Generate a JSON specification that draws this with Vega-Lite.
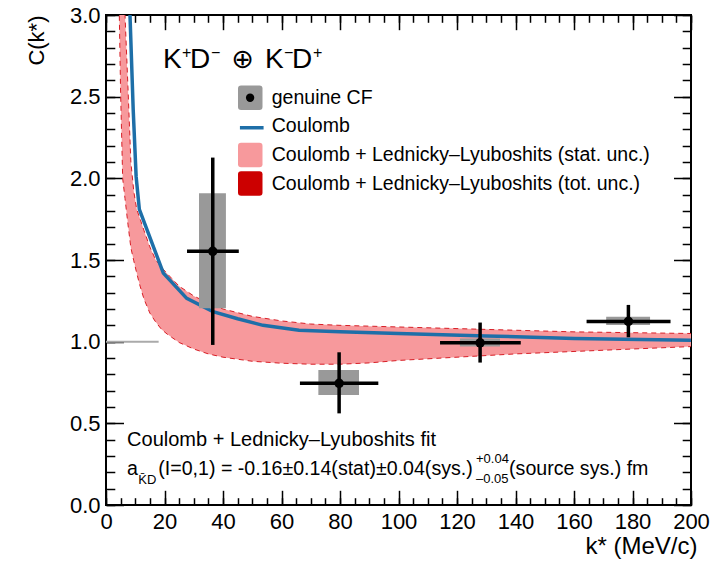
{
  "$schema": "https://vega.github.io/schema/vega-lite/v6.json",
  "width": 585,
  "height": 490,
  "autosize": {"type": "none"},
  "padding": {"left": 106, "top": 15, "right": 31, "bottom": 56},
  "background": "white",
  "config": {
    "font": "Liberation Sans",
    "view": {"stroke": "black", "strokeWidth": 2},
    "axis": {
      "grid": false,
      "domain": false,
      "labelFont": "Liberation Sans",
      "titleFont": "Liberation Sans",
      "labelColor": "black",
      "titleColor": "black",
      "tickColor": "black",
      "tickWidth": 1.5,
      "titleFontWeight": "normal"
    },
    "text": {"font": "Liberation Sans", "color": "black"}
  },
  "datasets": {
    "one": [{}],
    "band": [
      {"k": 4.5, "lo": 3.05, "hi": 4.0},
      {"k": 5.0, "lo": 2.52, "hi": 3.7},
      {"k": 5.7, "lo": 2.0, "hi": 3.35},
      {"k": 6.5, "lo": 1.876, "hi": 3.0},
      {"k": 7.5, "lo": 1.72, "hi": 2.56},
      {"k": 8.5, "lo": 1.575, "hi": 2.1},
      {"k": 9.5, "lo": 1.495, "hi": 1.92},
      {"k": 10.5, "lo": 1.42, "hi": 1.81},
      {"k": 11.5, "lo": 1.35, "hi": 1.76},
      {"k": 13, "lo": 1.26, "hi": 1.68},
      {"k": 15, "lo": 1.175, "hi": 1.58},
      {"k": 17, "lo": 1.12, "hi": 1.5},
      {"k": 19, "lo": 1.075, "hi": 1.455},
      {"k": 21, "lo": 1.045, "hi": 1.415},
      {"k": 25, "lo": 0.995, "hi": 1.34},
      {"k": 30, "lo": 0.955, "hi": 1.28},
      {"k": 35, "lo": 0.925, "hi": 1.235},
      {"k": 40, "lo": 0.905, "hi": 1.2},
      {"k": 50, "lo": 0.88, "hi": 1.155},
      {"k": 60, "lo": 0.868, "hi": 1.127},
      {"k": 70, "lo": 0.862, "hi": 1.108},
      {"k": 80, "lo": 0.862, "hi": 1.1},
      {"k": 90, "lo": 0.87, "hi": 1.095},
      {"k": 100, "lo": 0.885, "hi": 1.09},
      {"k": 120, "lo": 0.905, "hi": 1.08},
      {"k": 140, "lo": 0.925, "hi": 1.07},
      {"k": 160, "lo": 0.94, "hi": 1.06},
      {"k": 180, "lo": 0.955, "hi": 1.055},
      {"k": 200, "lo": 0.97, "hi": 1.05}
    ],
    "coulomb": [
      {"k": 7.8, "c": 3.2},
      {"k": 8.2, "c": 3.0},
      {"k": 9.3, "c": 2.42},
      {"k": 10.3, "c": 2.01},
      {"k": 11.4, "c": 1.81},
      {"k": 19.6, "c": 1.42},
      {"k": 27.6, "c": 1.265},
      {"k": 36.6, "c": 1.184},
      {"k": 45, "c": 1.14},
      {"k": 53.7, "c": 1.1},
      {"k": 66, "c": 1.07},
      {"k": 80, "c": 1.06},
      {"k": 100, "c": 1.05},
      {"k": 130, "c": 1.035},
      {"k": 160, "c": 1.02},
      {"k": 200, "c": 1.008}
    ],
    "cf": [
      {"k": 36.5, "c": 1.553, "k_lo": 27.7, "k_hi": 45.4, "c_lo": 0.98, "c_hi": 2.127, "sk_lo": 31.8, "sk_hi": 41.0, "sc_lo": 1.205, "sc_hi": 1.909},
      {"k": 79.7, "c": 0.745, "k_lo": 66.3, "k_hi": 93.1, "c_lo": 0.561, "c_hi": 0.935, "sk_lo": 72.6, "sk_hi": 86.5, "sc_lo": 0.674, "sc_hi": 0.827},
      {"k": 127.9, "c": 0.993, "k_lo": 114.2, "k_hi": 141.8, "c_lo": 0.872, "c_hi": 1.117, "sk_lo": 121.0, "sk_hi": 134.7, "sc_lo": 0.97, "sc_hi": 1.02},
      {"k": 178.6, "c": 1.124, "k_lo": 164.3, "k_hi": 193.0, "c_lo": 1.027, "c_hi": 1.225, "sk_lo": 171.0, "sk_hi": 186.0, "sc_lo": 1.102, "sc_hi": 1.153}
    ]
  },
  "layer": [
    {
      "data": {"name": "one"},
      "mark": {"type": "rule", "color": "#AAAAAA", "strokeWidth": 2},
      "encoding": {
        "x": {"datum": 0, "type": "quantitative", "axis": null},
        "x2": {"datum": 18},
        "y": {"datum": 1, "type": "quantitative", "axis": null}
      }
    },
    {
      "data": {"name": "band"},
      "mark": {"type": "area", "clip": true, "opacity": 1},
      "encoding": {
        "x": {
          "field": "k", "type": "quantitative",
          "scale": {"domain": [0, 200]},
          "axis": {
            "orient": "bottom",
            "values": [0, 20, 40, 60, 80, 100, 120, 140, 160, 180, 200],
            "ticks": false,
            "labelFontSize": 22,
            "labelPadding": 6,
            "labelFlush": false,
            "labelOverlap": false,
            "title": "k* (MeV/c)",
            "titleFontSize": 24,
            "titleAlign": "right",
            "titleBaseline": "alphabetic",
            "titleX": 591,
            "titleY": 48
          }
        },
        "y": {
          "field": "lo", "type": "quantitative",
          "scale": {"domain": [0, 3]},
          "axis": {
            "orient": "left",
            "values": [0, 0.5, 1, 1.5, 2, 2.5, 3],
            "format": ".1f",
            "ticks": false,
            "labelFontSize": 22,
            "labelPadding": 6,
            "labelFlush": false,
            "labelOverlap": false,
            "title": "C(k*)",
            "titleFontSize": 22,
            "titleAngle": -90,
            "titleAlign": "right",
            "titleBaseline": "alphabetic",
            "titleX": -63,
            "titleY": 0
          }
        },
        "y2": {"field": "hi"},
        "fill": {
          "datum": "Coulomb + Lednicky–Lyuboshits (stat. unc.)",
          "type": "nominal",
          "scale": {
            "domain": ["genuine CF", "Coulomb", "Coulomb + Lednicky–Lyuboshits (stat. unc.)", "Coulomb + Lednicky–Lyuboshits (tot. unc.)"],
            "range": ["#999999", "#FFFFFF", "#F7999C", "#CC0000"]
          },
          "legend": {
            "orient": "none",
            "legendX": 131.75,
            "legendY": 70.25,
            "title": null,
            "padding": 0,
            "symbolSize": 600,
            "symbolType": "M-1,-0.75Q-1,-1,-0.75,-1L0.75,-1Q1,-1,1,-0.75L1,0.75Q1,1,0.75,1L-0.75,1Q-1,1,-1,0.75Z",
            "symbolStrokeWidth": 0,
            "symbolOpacity": 1,
            "rowPadding": 3.6,
            "labelFontSize": 19.5,
            "labelFont": "Liberation Sans",
            "labelColor": "black",
            "labelOffset": 9,
            "labelLimit": 0
          }
        }
      }
    },
    {
      "data": {"name": "band"},
      "mark": {"type": "line", "clip": true, "strokeWidth": 1, "strokeDash": [5, 4], "color": "#D81E26"},
      "encoding": {
        "x": {
          "field": "k", "type": "quantitative", "scale": {"domain": [0, 200]},
          "axis": {"orient": "bottom", "values": [0, 20, 40, 60, 80, 100, 120, 140, 160, 180, 200], "labels": false, "tickSize": -14.7, "title": null}
        },
        "y": {
          "field": "hi", "type": "quantitative", "scale": {"domain": [0, 3]},
          "axis": {"orient": "left", "values": [0, 0.5, 1, 1.5, 2, 2.5, 3], "labels": false, "tickSize": -17.5, "title": null}
        }
      }
    },
    {
      "data": {"name": "band"},
      "mark": {"type": "line", "clip": true, "strokeWidth": 1, "strokeDash": [5, 4], "color": "#D81E26"},
      "encoding": {
        "x": {
          "field": "k", "type": "quantitative", "scale": {"domain": [0, 200]},
          "axis": {"orient": "top", "values": [0, 20, 40, 60, 80, 100, 120, 140, 160, 180, 200], "labels": false, "tickSize": -14.7, "title": null}
        },
        "y": {
          "field": "lo", "type": "quantitative", "scale": {"domain": [0, 3]},
          "axis": {"orient": "right", "values": [0, 0.5, 1, 1.5, 2, 2.5, 3], "labels": false, "tickSize": -17.5, "title": null}
        }
      }
    },
    {
      "data": {"name": "coulomb"},
      "mark": {"type": "line", "clip": true, "strokeWidth": 3.5},
      "encoding": {
        "x": {
          "field": "k", "type": "quantitative", "scale": {"domain": [0, 200]},
          "axis": {"orient": "bottom", "values": [0, 5, 10, 15, 20, 25, 30, 35, 40, 45, 50, 55, 60, 65, 70, 75, 80, 85, 90, 95, 100, 105, 110, 115, 120, 125, 130, 135, 140, 145, 150, 155, 160, 165, 170, 175, 180, 185, 190, 195, 200], "labels": false, "tickSize": -7.3, "title": null}
        },
        "y": {
          "field": "c", "type": "quantitative", "scale": {"domain": [0, 3]},
          "axis": {"orient": "left", "values": [0, 0.1, 0.2, 0.3, 0.4, 0.5, 0.6, 0.7, 0.8, 0.9, 1, 1.1, 1.2, 1.3, 1.4, 1.5, 1.6, 1.7, 1.8, 1.9, 2, 2.1, 2.2, 2.3, 2.4, 2.5, 2.6, 2.7, 2.8, 2.9, 3], "labels": false, "tickSize": -8.8, "title": null}
        },
        "stroke": {
          "datum": "Coulomb",
          "type": "nominal",
          "scale": {"domain": ["Coulomb"], "range": ["#1E6FA8"]},
          "legend": {
            "orient": "none",
            "legendX": 131.75,
            "legendY": 98.75,
            "title": null,
            "padding": 0,
            "symbolType": "stroke",
            "symbolSize": 560,
            "symbolStrokeWidth": 3.5,
            "labelExpr": "''",
            "labelFontSize": 1,
            "labelOffset": 0
          }
        }
      }
    },
    {
      "data": {"name": "cf"},
      "mark": {"type": "rect", "opacity": 1, "color": "#999999"},
      "encoding": {
        "x": {
          "field": "sk_lo", "type": "quantitative", "scale": {"domain": [0, 200]},
          "axis": {"orient": "top", "values": [0, 5, 10, 15, 20, 25, 30, 35, 40, 45, 50, 55, 60, 65, 70, 75, 80, 85, 90, 95, 100, 105, 110, 115, 120, 125, 130, 135, 140, 145, 150, 155, 160, 165, 170, 175, 180, 185, 190, 195, 200], "labels": false, "tickSize": -7.3, "title": null}
        },
        "x2": {"field": "sk_hi"},
        "y": {
          "field": "sc_lo", "type": "quantitative", "scale": {"domain": [0, 3]},
          "axis": {"orient": "right", "values": [0, 0.1, 0.2, 0.3, 0.4, 0.5, 0.6, 0.7, 0.8, 0.9, 1, 1.1, 1.2, 1.3, 1.4, 1.5, 1.6, 1.7, 1.8, 1.9, 2, 2.1, 2.2, 2.3, 2.4, 2.5, 2.6, 2.7, 2.8, 2.9, 3], "labels": false, "tickSize": -8.8, "title": null}
        },
        "y2": {"field": "sc_hi"}
      }
    },
    {
      "data": {"name": "cf"},
      "mark": {"type": "rule", "color": "black", "strokeWidth": 3.5},
      "encoding": {
        "x": {"field": "k_lo", "type": "quantitative", "axis": null},
        "x2": {"field": "k_hi"},
        "y": {"field": "c", "type": "quantitative", "axis": null}
      }
    },
    {
      "data": {"name": "cf"},
      "mark": {"type": "rule", "color": "black", "strokeWidth": 3.5},
      "encoding": {
        "x": {"field": "k", "type": "quantitative", "axis": null},
        "y": {"field": "c_lo", "type": "quantitative", "axis": null},
        "y2": {"field": "c_hi"}
      }
    },
    {
      "data": {"name": "cf"},
      "mark": {"type": "point", "filled": true, "color": "black", "size": 90, "opacity": 1},
      "encoding": {
        "x": {"field": "k", "type": "quantitative", "axis": null},
        "y": {"field": "c", "type": "quantitative", "axis": null},
        "shape": {
          "datum": "dot",
          "type": "nominal",
          "scale": {"domain": ["dot"], "range": ["circle"]},
          "legend": {
            "orient": "none",
            "legendX": 139.6,
            "legendY": 78.3,
            "title": null,
            "padding": 0,
            "labelExpr": "''",
            "labelFontSize": 1,
            "labelOffset": 0,
            "symbolSize": 70,
            "symbolFillColor": "black",
            "symbolStrokeWidth": 0
          }
        }
      }
    },
    {
      "data": {"name": "one"},
      "mark": {"type": "text", "text": "K", "fontSize": 28, "align": "left", "baseline": "alphabetic"},
      "encoding": {"x": {"datum": 19.49, "type": "quantitative", "axis": null}, "y": {"datum": 2.674, "type": "quantitative", "axis": null}}
    },
    {
      "data": {"name": "one"},
      "mark": {"type": "text", "text": "+", "fontSize": 16, "align": "left", "baseline": "alphabetic", "dy": -10},
      "encoding": {"x": {"datum": 25.98, "type": "quantitative", "axis": null}, "y": {"datum": 2.674, "type": "quantitative", "axis": null}}
    },
    {
      "data": {"name": "one"},
      "mark": {"type": "text", "text": "D", "fontSize": 28, "align": "left", "baseline": "alphabetic"},
      "encoding": {"x": {"datum": 28.72, "type": "quantitative", "axis": null}, "y": {"datum": 2.674, "type": "quantitative", "axis": null}}
    },
    {
      "data": {"name": "one"},
      "mark": {"type": "text", "text": "−", "fontSize": 16, "align": "left", "baseline": "alphabetic", "dy": -10},
      "encoding": {"x": {"datum": 35.9, "type": "quantitative", "axis": null}, "y": {"datum": 2.674, "type": "quantitative", "axis": null}}
    },
    {
      "data": {"name": "one"},
      "mark": {"type": "text", "text": "⊕", "fontSize": 27, "align": "left", "baseline": "alphabetic", "font": "DejaVu Sans"},
      "encoding": {"x": {"datum": 42.9, "type": "quantitative", "axis": null}, "y": {"datum": 2.674, "type": "quantitative", "axis": null}}
    },
    {
      "data": {"name": "one"},
      "mark": {"type": "text", "text": "K", "fontSize": 28, "align": "left", "baseline": "alphabetic"},
      "encoding": {"x": {"datum": 54.36, "type": "quantitative", "axis": null}, "y": {"datum": 2.674, "type": "quantitative", "axis": null}}
    },
    {
      "data": {"name": "one"},
      "mark": {"type": "text", "text": "−", "fontSize": 16, "align": "left", "baseline": "alphabetic", "dy": -10},
      "encoding": {"x": {"datum": 60.85, "type": "quantitative", "axis": null}, "y": {"datum": 2.674, "type": "quantitative", "axis": null}}
    },
    {
      "data": {"name": "one"},
      "mark": {"type": "text", "text": "D", "fontSize": 28, "align": "left", "baseline": "alphabetic"},
      "encoding": {"x": {"datum": 63.59, "type": "quantitative", "axis": null}, "y": {"datum": 2.674, "type": "quantitative", "axis": null}}
    },
    {
      "data": {"name": "one"},
      "mark": {"type": "text", "text": "+", "fontSize": 16, "align": "left", "baseline": "alphabetic", "dy": -10},
      "encoding": {"x": {"datum": 70.77, "type": "quantitative", "axis": null}, "y": {"datum": 2.674, "type": "quantitative", "axis": null}}
    },
    {
      "data": {"name": "one"},
      "mark": {"type": "text", "text": "Coulomb + Lednicky–Lyuboshits fit", "fontSize": 20, "align": "left", "baseline": "alphabetic"},
      "encoding": {"x": {"datum": 7.2, "type": "quantitative", "axis": null}, "y": {"datum": 0.361, "type": "quantitative", "axis": null}}
    },
    {
      "data": {"name": "one"},
      "mark": {"type": "text", "text": "a", "fontSize": 19.6, "align": "left", "baseline": "alphabetic"},
      "encoding": {"x": {"datum": 7.2, "type": "quantitative", "axis": null}, "y": {"datum": 0.184, "type": "quantitative", "axis": null}}
    },
    {
      "data": {"name": "one"},
      "mark": {"type": "text", "text": "K̄D", "fontSize": 13, "align": "left", "baseline": "alphabetic"},
      "encoding": {"x": {"datum": 11.04, "type": "quantitative", "axis": null}, "y": {"datum": 0.1286, "type": "quantitative", "axis": null}}
    },
    {
      "data": {"name": "one"},
      "mark": {"type": "text", "text": "(I=0,1) = -0.16±0.14(stat)±0.04(sys.)", "fontSize": 19.6, "align": "left", "baseline": "alphabetic"},
      "encoding": {"x": {"datum": 17.88, "type": "quantitative", "axis": null}, "y": {"datum": 0.184, "type": "quantitative", "axis": null}}
    },
    {
      "data": {"name": "one"},
      "mark": {"type": "text", "text": "+0.04", "fontSize": 13, "align": "left", "baseline": "alphabetic"},
      "encoding": {"x": {"datum": 126.5, "type": "quantitative", "axis": null}, "y": {"datum": 0.257, "type": "quantitative", "axis": null}}
    },
    {
      "data": {"name": "one"},
      "mark": {"type": "text", "text": "–0.05", "fontSize": 13, "align": "left", "baseline": "alphabetic"},
      "encoding": {"x": {"datum": 126.5, "type": "quantitative", "axis": null}, "y": {"datum": 0.1347, "type": "quantitative", "axis": null}}
    },
    {
      "data": {"name": "one"},
      "mark": {"type": "text", "text": "(source sys.) fm", "fontSize": 19.6, "align": "left", "baseline": "alphabetic"},
      "encoding": {"x": {"datum": 137.8, "type": "quantitative", "axis": null}, "y": {"datum": 0.184, "type": "quantitative", "axis": null}}
    }
  ],
  "resolve": {"axis": {"x": "independent", "y": "independent"}}
}
